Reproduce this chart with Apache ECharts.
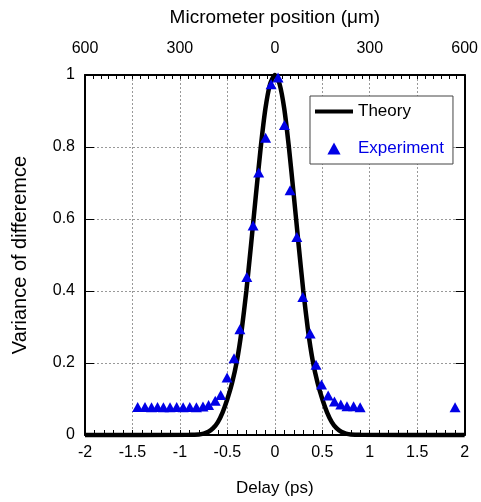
<!DOCTYPE html>
<html><head><meta charset="utf-8">
<script src="https://cdn.jsdelivr.net/npm/echarts@6/dist/echarts.min.js"></script>
<style>html,body{margin:0;padding:0;background:#fff}#c{width:481px;height:502px}</style>
</head><body><div id="c"></div>
<script>
// Experiment (triangles): delay in ps, variance of difference
const expDelay = [-1.445,-1.368,-1.299,-1.236,-1.174,-1.104,-1.034,-0.966,-0.896,-0.826,-0.757,-0.698,-0.628,-0.570,-0.503,-0.430,-0.368,-0.295,-0.229,-0.170,-0.097,-0.039,0.034,0.101,0.161,0.232,0.295,0.372,0.434,0.492,0.562,0.628,0.695,0.760,0.830,0.899,1.899];
const expValue = [0.078,0.078,0.077,0.078,0.077,0.077,0.078,0.077,0.078,0.077,0.079,0.083,0.095,0.111,0.160,0.213,0.294,0.439,0.582,0.729,0.826,0.974,0.993,0.861,0.680,0.550,0.383,0.282,0.195,0.140,0.110,0.093,0.085,0.080,0.080,0.077,0.077];
// Theory (thick black curve)
const theoryDelay = [-2,-0.9,-0.8,-0.75,-0.7,-0.65,-0.6,-0.55,-0.5,-0.45,-0.4,-0.35,-0.3,-0.25,-0.2,-0.15,-0.1,-0.05,0,0.05,0.1,0.15,0.2,0.25,0.3,0.35,0.4,0.45,0.5,0.55,0.6,0.65,0.7,0.75,0.8,0.9,2];
const theoryValue = [0,0.0005,0.0015,0.004,0.009,0.019,0.036,0.063,0.1,0.145,0.205,0.29,0.40,0.53,0.665,0.795,0.905,0.975,1,0.975,0.905,0.795,0.665,0.53,0.40,0.29,0.205,0.145,0.1,0.063,0.036,0.019,0.009,0.004,0.0015,0.0005,0];
// Top axis tick labels (micrometer position) at delay -2,-1,0,1,2
const micrometerLabels = ['600','300','0','300','600'];

const FONT = "'Liberation Sans', Arial, Helvetica, sans-serif";
const BLUE = '#0000e6';
const chart = echarts.init(document.getElementById('c'), null, {renderer:'canvas'});
const txt = {fontFamily: FONT, color:'#000'};
chart.setOption({
  animation:false,
  backgroundColor:'#fff',
  grid:{left:85,right:12,top:75,bottom:66,containLabel:false},
  legend:{
    orient:'vertical', left:310, top:96, selectedMode:false,
    backgroundColor:'#fff', borderColor:'#444', borderWidth:1, borderRadius:0,
    padding:[7,9,7,5], itemWidth:38, itemHeight:12, itemGap:20, z:10,
    symbolKeepAspect:true,
    textStyle:{fontFamily:FONT, fontSize:17, color:'#000'},
    data:[
      {name:'Theory', icon:'path://M0,0L40,0L40,4.4L0,4.4Z'},
      {name:'Experiment', icon:'path://M5.5,0L11,10L0,10Z', textStyle:{color:BLUE}}
    ]
  },
  xAxis:[
    {type:'value', position:'bottom', min:-2, max:2, interval:0.5,
     name:'Delay (ps)', nameLocation:'middle', nameGap:45,
     nameTextStyle:Object.assign({fontSize:17}, txt),
     axisLine:{show:true, onZero:false, lineStyle:{color:'#000', width:2}},
     axisTick:{show:true, inside:true, length:5, lineStyle:{color:'#000'}},
     minorTick:{show:true, splitNumber:5, length:5, lineStyle:{color:'#000'}},
     axisLabel:Object.assign({fontSize:16, margin:10}, txt),
     splitLine:{show:true, lineStyle:{color:'#999', type:[2,2], width:1}}},
    {type:'value', position:'top', min:-2, max:2, interval:1,
     name:'Micrometer position (μm)', nameLocation:'middle', nameGap:48,
     nameTextStyle:Object.assign({fontSize:19}, txt),
     axisLine:{show:true, onZero:false, lineStyle:{color:'#000', width:2}},
     axisTick:{show:true, inside:true, length:4, lineStyle:{color:'#000'}},
     minorTick:{show:true, splitNumber:12, length:4, lineStyle:{color:'#000'}},
     axisLabel:Object.assign({fontSize:16, margin:18, formatter:v=>micrometerLabels[Math.round(v)+2]}, txt),
     splitLine:{show:false}}
  ],
  yAxis:[
    {type:'value', position:'left', min:0, max:1, interval:0.2,
     name:'Variance of differemce', nameLocation:'middle', nameGap:55,
     nameTextStyle:Object.assign({fontSize:20}, txt),
     axisLine:{show:true, onZero:false, lineStyle:{color:'#000', width:2}},
     axisTick:{show:true, inside:true, length:9, lineStyle:{color:'#000'}},
     axisLabel:Object.assign({fontSize:16, margin:10}, txt),
     splitLine:{show:true, lineStyle:{color:'#999', type:[2,2], width:1}}},
    {type:'value', position:'right', min:0, max:1, interval:0.2,
     axisLine:{show:true, onZero:false, lineStyle:{color:'#000', width:2}},
     axisTick:{show:true, inside:true, length:9, lineStyle:{color:'#000'}},
     axisLabel:{show:false}, splitLine:{show:false}}
  ],
  series:[
    {type:'line', name:'Theory', xAxisIndex:0, yAxisIndex:0, clip:false,
     data:theoryDelay.map((d,i)=>[d, theoryValue[i]]),
     symbol:'none', smooth:0.2, lineStyle:{color:'#000', width:4.5}, itemStyle:{color:'#000'}, z:2},
    {type:'scatter', name:'Experiment', xAxisIndex:0, yAxisIndex:0,
     data:expDelay.map((d,i)=>[d, expValue[i]]),
     symbol:'triangle', symbolSize:[11,10], itemStyle:{color:BLUE, opacity:1}, z:3}
  ]
});
</script></body></html>
